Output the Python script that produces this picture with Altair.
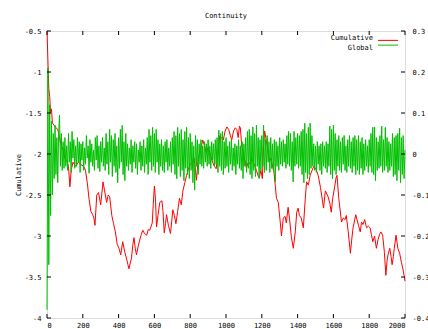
import altair as alt
import pandas as pd

# Cumulative continuity score, sampled along the step axis
red_x = [0, 5, 10, 15, 20, 25, 30, 40, 50, 60, 70, 80, 90, 100, 110, 120, 128, 135, 145, 160,
         175, 190, 205, 215, 225, 235, 245, 255, 262, 268, 278, 288, 300, 313, 322, 333, 342, 350, 362, 372,
         382, 392, 402, 412, 423, 435, 445, 452, 458, 465, 472, 480, 486, 493, 500, 510, 518, 527, 535, 545,
         557, 566, 574, 588, 594, 600, 606, 612, 620, 630, 642, 648, 655, 662, 668, 678, 690, 703, 712, 720,
         730, 740, 750, 760, 770, 780, 790, 800, 810, 822, 835, 845, 858, 870, 880, 890, 900, 912, 925, 935,
         945, 955, 965, 975, 985, 995, 1005, 1015, 1025, 1032, 1042, 1052, 1060, 1068, 1075, 1080, 1088, 1098, 1108, 1114,
         1125, 1135, 1142, 1152, 1160, 1170, 1180, 1186, 1195, 1203, 1210, 1216, 1222, 1230, 1242, 1252, 1260, 1268, 1276, 1282,
         1292, 1303, 1310, 1320, 1330, 1337, 1347, 1357, 1365, 1376, 1387, 1395, 1403, 1410, 1420, 1432, 1443, 1450, 1460, 1470,
         1477, 1490, 1500, 1515, 1528, 1545, 1555, 1570, 1580, 1588, 1596, 1607, 1615, 1620, 1630, 1645, 1655, 1665, 1672, 1683,
         1695, 1702, 1710, 1725, 1732, 1740, 1750, 1757, 1765, 1775, 1785, 1795, 1805, 1812, 1820, 1830, 1840, 1850, 1858, 1865,
         1875, 1885, 1893, 1900, 1905, 1915, 1922, 1928, 1935, 1940, 1950, 1960, 1970, 1980, 1988, 1995, 2000]
red_y = [-0.5, -0.85, -1.2, -1.3, -1.5, -1.45, -1.62, -1.65, -1.68, -1.7, -1.8, -1.9, -1.95, -2.05, -2.08, -2.15, -2.4, -2.2, -2.1, -2.15,
         -2.1, -2.13, -2.15, -2.2, -2.35, -2.55, -2.7, -2.74, -2.78, -2.87, -2.5, -2.47, -2.62, -2.34, -2.45, -2.59, -2.5, -2.52, -2.75, -2.85,
         -2.95, -3.1, -3.15, -3.23, -3.07, -3.2, -3.28, -3.35, -3.4, -3.33, -3.27, -3.1, -3.02, -3.15, -3.23, -3.12, -3.05, -2.98, -2.93, -2.97,
         -2.99, -2.92, -2.93, -2.84, -2.6, -2.39, -2.55, -2.89, -2.75, -2.59, -2.57, -2.7, -2.96, -2.85, -2.74, -2.87, -2.97, -2.68, -2.75, -2.85,
         -2.7, -2.54, -2.62, -2.44, -2.35, -2.26, -2.18, -2.13, -2.1, -2.05, -2.32, -2.05, -1.95, -1.83, -1.9, -1.99, -1.92, -2.0, -2.1, -2.15,
         -2.18, -2.0, -1.78, -1.8, -1.83, -1.72, -1.67, -1.7, -1.78, -1.83, -1.72, -1.68, -1.7, -1.8, -1.66, -1.68, -1.9, -2.0, -2.1, -2.17,
         -2.1, -2.12, -2.04, -2.1, -2.14, -2.2, -2.27, -2.29, -2.2, -2.3, -1.9, -1.72, -1.8, -1.9, -2.1, -2.05, -2.15, -2.22, -2.4, -2.54,
         -2.59, -2.83, -3.0, -2.78, -2.76, -2.84, -2.65, -2.83, -3.01, -3.15, -2.95, -2.71, -2.66, -2.75, -2.78, -2.9, -2.54, -2.34, -2.38, -2.26,
         -2.22, -2.15, -2.17, -2.26, -2.41, -2.66, -2.45, -2.52, -2.6, -2.71, -2.54, -2.4, -2.29, -2.26, -2.54, -2.83, -2.78, -2.8, -2.75, -2.95,
         -3.21, -3.05, -2.9, -2.74, -2.8, -2.87, -2.95, -2.83, -2.86, -2.8, -2.9, -2.88, -2.9, -2.98, -3.07, -3.0, -3.15, -3.04, -2.98, -2.95,
         -2.99, -3.2, -3.48, -3.3, -3.23, -3.15, -3.25, -3.35, -3.25, -3.15, -2.99, -3.15, -3.21, -3.32, -3.4, -3.48, -3.55]

# Global continuity, one value every 5 steps from 0 to 2000
green_step = 5
green_y = [
    -0.38, 0.21, -0.27, 0.12, -0.15, 0.08, -0.1, 0.05, -0.06, 0.07, -0.05, 0.04, -0.07, 0.05, 0.095, -0.03, 0.05, -0.04, 0.03, -0.035,
    0.04, -0.03, 0.02, -0.04, 0.05, -0.02, 0.03, -0.045, 0.055, -0.01, 0.035, -0.035, 0.02, -0.03, 0.04, -0.02, 0.03, -0.045, 0.025, -0.015,
    0.03, -0.04, 0.015, -0.025, 0.045, -0.01, 0.02, -0.047, 0.035, -0.02, 0.025, -0.03, 0.01, -0.04, 0.04, -0.015, 0.045, -0.035, 0.02, -0.043,
    0.03, -0.02, 0.04, -0.03, 0.015, -0.04, 0.05, -0.025, 0.03, -0.05, 0.06, -0.02, 0.045, -0.055, 0.035, -0.03, 0.05, -0.045, 0.02, -0.07,
    0.04, -0.035, 0.06, -0.02, 0.07, -0.05, 0.03, -0.065, 0.05, -0.03, 0.025, -0.04, 0.015, -0.025, 0.035, -0.045, 0.02, -0.02, 0.03, -0.035,
    0.025, -0.05, 0.01, -0.02, 0.03, -0.04, 0.02, -0.03, 0.035, -0.045, 0.015, -0.025, 0.04, -0.05, 0.06, -0.02, 0.045, -0.04, 0.065, -0.03,
    0.05, -0.045, 0.06, -0.02, 0.035, -0.05, 0.025, -0.03, 0.035, -0.04, 0.02, -0.045, 0.03, -0.02, 0.035, -0.04, 0.015, -0.03, 0.03, -0.045,
    0.04, -0.025, 0.055, -0.05, 0.045, -0.06, 0.065, -0.03, 0.05, -0.055, 0.06, -0.04, 0.035, -0.065, 0.055, -0.035, 0.065, -0.05, 0.04, -0.06,
    0.05, -0.04, 0.03, -0.07, 0.02, -0.088, 0.045, -0.03, 0.035, -0.05, 0.025, -0.025, 0.035, -0.03, 0.02, -0.035, 0.03, -0.02, 0.025, -0.03,
    0.035, -0.025, 0.02, -0.035, 0.03, -0.015, 0.025, -0.03, 0.035, -0.025, 0.04, -0.045, 0.058, -0.03, 0.05, -0.04, 0.055, -0.05, 0.03, -0.035,
    0.04, -0.03, 0.02, -0.045, 0.03, -0.025, 0.035, -0.04, 0.015, -0.03, 0.025, -0.05, 0.02, -0.025, 0.035, -0.035, 0.02, -0.04, 0.03, -0.06,
    0.025, -0.03, 0.04, -0.045, 0.055, -0.035, 0.06, -0.05, 0.045, -0.06, 0.066, -0.04, 0.05, -0.055, 0.07, -0.03, 0.04, -0.06, 0.035, -0.04,
    0.045, -0.03, 0.07, -0.045, 0.035, -0.04, 0.045, -0.02, 0.03, -0.045, 0.04, -0.035, 0.025, -0.04, 0.035, -0.068, 0.03, -0.03, 0.02, -0.04,
    0.04, -0.025, 0.03, -0.03, 0.035, -0.02, 0.025, -0.035, 0.045, -0.025, 0.055, -0.03, 0.05, -0.04, 0.03, -0.068, 0.055, -0.03, 0.04, -0.025,
    0.05, -0.035, 0.045, -0.03, 0.055, -0.05, 0.06, -0.07, 0.075, -0.045, 0.05, -0.06, 0.065, -0.05, 0.075, -0.035, 0.045, -0.03, 0.025, -0.04,
    0.02, -0.045, 0.03, -0.025, 0.02, -0.04, 0.025, -0.05, 0.03, -0.03, 0.02, -0.035, 0.03, -0.045, 0.025, -0.03, 0.068, -0.05, 0.06, -0.06,
    0.07, -0.04, 0.05, -0.05, 0.035, -0.03, 0.045, -0.04, 0.03, -0.045, 0.04, -0.025, 0.045, -0.04, 0.02, -0.045, 0.035, -0.03, 0.045, -0.035,
    0.03, -0.045, 0.04, -0.03, 0.045, -0.05, 0.035, -0.04, 0.045, -0.05, 0.03, -0.035, 0.04, -0.05, 0.025, -0.04, 0.035, -0.03, 0.02, -0.045,
    0.035, -0.03, 0.05, -0.045, 0.065, -0.05, 0.066, -0.065, 0.04, -0.04, 0.03, -0.035, 0.045, -0.03, 0.068, -0.045, 0.035, -0.04, 0.065, -0.03,
    0.04, -0.045, 0.03, -0.04, 0.025, -0.03, 0.05, -0.055, 0.04, -0.05, 0.045, -0.065, 0.05, -0.04, 0.063, -0.07, 0.04, -0.05, 0.045, -0.06,
    0.01,
]

x_ticks = [0, 200, 400, 600, 800, 1000, 1200, 1400, 1600, 1800, 2000]
left_ticks = [-4, -3.5, -3, -2.5, -2, -1.5, -1, -0.5]
right_ticks = [-0.4, -0.3, -0.2, -0.1, 0, 0.1, 0.2, 0.3]
series = ["Cumulative", "Global"]
colors = ["#ff0000", "#00c000"]
chart_title = "Continuity"

W, H = 358, 287
FONT = "DejaVu Sans Mono"
FS = 7
TICK = 4
fix_minus = "replace(datum.label, '\u2212', '-')"

red_df = pd.DataFrame({"step": red_x, "value": red_y})
green_df = pd.DataFrame({"step": list(range(0, 2001, green_step)), "value": green_y})

x_scale = alt.Scale(domain=[0, 2000], nice=False, zero=False)
left_scale = alt.Scale(domain=[-4, -0.5], nice=False, zero=False)
right_scale = alt.Scale(domain=[-0.4, 0.3], nice=False, zero=False)

label_style = dict(labelFont=FONT, labelFontSize=FS, labelColor="black",
                   ticks=False, domain=False, grid=False, labelExpr=fix_minus)

x_axis = alt.Axis(values=x_ticks, title=None, labelPadding=3, format="d",
                  orient="bottom", **label_style)


def xenc(field):
    return alt.X(field, scale=x_scale, axis=x_axis)


red = alt.Chart(red_df).mark_line(color=colors[0], strokeWidth=1).encode(
    x=xenc("step:Q"),
    y=alt.Y("value:Q", scale=left_scale,
            axis=alt.Axis(values=left_ticks, orient="left", format="~g", labelPadding=6,
                          title=series[0], titleFont=FONT, titleFontSize=FS,
                          titleFontWeight="normal", titleColor="black",
                          titleAngle=-90, titleX=-29, titleY=H / 2,
                          titleAlign="center", titleBaseline="middle", **label_style)),
)

green = alt.Chart(green_df).mark_line(color=colors[1], strokeWidth=1).encode(
    x=xenc("step:Q"),
    y=alt.Y("value:Q", scale=right_scale,
            axis=alt.Axis(values=right_ticks, orient="right", format="~g", labelPadding=7,
                          labelAlign="left", title=None, **label_style)),
)

# Inward tick marks on all four sides of the frame
xt = pd.DataFrame({"step": x_ticks})
lt = pd.DataFrame({"t": left_ticks})
rt = pd.DataFrame({"t": right_ticks})

x_ticks_bottom = alt.Chart(xt).mark_rule(strokeWidth=1).encode(
    x=xenc("step:Q"), y=alt.value(H), y2=alt.value(H - TICK), color=alt.value("black"))
x_ticks_top = alt.Chart(xt).mark_rule(strokeWidth=1).encode(
    x=xenc("step:Q"), y=alt.value(0), y2=alt.value(TICK), color=alt.value("black"))
left_tick_marks = alt.Chart(lt).mark_rule(strokeWidth=1).encode(
    y=alt.Y("t:Q", scale=left_scale, axis=None), x=alt.value(0), x2=alt.value(TICK),
    color=alt.value("black"))
right_tick_marks = alt.Chart(rt).mark_rule(strokeWidth=1).encode(
    y=alt.Y("t:Q", scale=right_scale, axis=None), x=alt.value(W), x2=alt.value(W - TICK),
    color=alt.value("black"))

# Key in the top-right corner: label, then a short line sample
key_df = pd.DataFrame({"series": series, "color": colors})
key_y = alt.Y("series:N", scale=alt.Scale(domain=series, range=[7, 16.5], padding=0),
              axis=None)
key_text = alt.Chart(key_df).mark_text(
    align="right", baseline="middle", font=FONT, fontSize=FS, color="black"
).encode(x=alt.value(326), y=key_y, text="series:N")
key_line = alt.Chart(key_df).mark_rule(strokeWidth=1).encode(
    x=alt.value(331), x2=alt.value(351), y=key_y,
    color=alt.Color("color:N", scale=None, legend=None))

chart = alt.layer(
    red, green, x_ticks_bottom, x_ticks_top, left_tick_marks, right_tick_marks,
    key_text, key_line
).resolve_scale(y="independent").properties(
    width=W, height=H,
    title=alt.TitleParams(chart_title, font=FONT, fontSize=FS, fontWeight="normal",
                          color="black", anchor="middle", frame="group", offset=8),
    autosize=alt.AutoSizeParams(type="none"),
    padding={"left": 47, "top": 31, "right": 23, "bottom": 11},
).configure_view(stroke="black", strokeWidth=1).configure(background="white")

chart.save("out.html", embed_options={"renderer": "svg", "actions": False})
